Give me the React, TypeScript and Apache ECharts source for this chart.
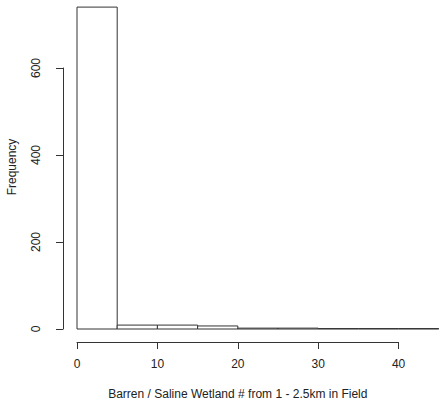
import React, { useEffect, useRef } from "react";
import * as echarts from "echarts";

const binStarts = [0, 5, 10, 15, 20, 25, 30, 35, 40];
const binWidth = 5;
const counts = [740, 9, 9, 7, 2, 2, 1, 1, 1];
const xTicks = [0, 10, 20, 30, 40];
const yTicks = [0, 200, 400, 600];
const xTitle = "Barren / Saline Wetland # from 1 - 2.5km in Field";
const yTitle = "Frequency";

const FONT = "Liberation Sans, Arial, Helvetica, sans-serif";
const PX_X = 8.04;
const PX_Y = 0.435;

export default function App() {
  const ref = useRef<HTMLDivElement>(null);
  useEffect(() => {
    if (!ref.current) return;
    const chart = echarts.init(ref.current, null, { renderer: "svg" });
    const data = binStarts.map((s, i) => [s, s + binWidth, counts[i]]);
    const yMax = 756;
    chart.setOption({
      animation: false,
      backgroundColor: "#ffffff",
      textStyle: { fontFamily: FONT },
      grid: [
        { left: 77 - PX_X, width: 48 * PX_X, top: 329 - yMax * PX_Y, height: yMax * PX_Y, outerBoundsMode: "none", containLabel: false },
        { left: 77, width: 40 * PX_X, bottom: 62, height: 10, outerBoundsMode: "none", containLabel: false },
        { left: 63, top: 68, height: 261, width: 10, outerBoundsMode: "none", containLabel: false },
      ],
      xAxis: [
        { gridIndex: 0, type: "value", min: -1, max: 47, show: false },
        {
          gridIndex: 1,
          type: "value",
          min: 0,
          max: 40,
          interval: 10,
          axisLine: { show: true, lineStyle: { color: "#333", width: 1 } },
          axisTick: { show: true, inside: false, length: 7, lineStyle: { color: "#333" } },
          axisLabel: { show: true, color: "#222", fontSize: 12, margin: 16, fontFamily: FONT },
          splitLine: { show: false },
          name: xTitle,
          nameLocation: "middle",
          nameGap: 46,
          nameTextStyle: { color: "#222", fontSize: 12, fontFamily: FONT },
        },
        { gridIndex: 2, type: "value", show: false },
      ],
      yAxis: [
        { gridIndex: 0, type: "value", min: 0, max: yMax, show: false },
        { gridIndex: 1, type: "value", show: false },
        {
          gridIndex: 2,
          type: "value",
          min: 0,
          max: 600,
          interval: 200,
          axisLine: { show: true, lineStyle: { color: "#333", width: 1 } },
          axisTick: { show: true, inside: false, length: 7, lineStyle: { color: "#333" } },
          axisLabel: { show: true, color: "#222", fontSize: 12, margin: 21, rotate: 90, fontFamily: FONT },
          splitLine: { show: false },
        },
      ],
      graphic: [
        {
          type: "text",
          x: 12,
          y: 167,
          rotation: Math.PI / 2,
          style: {
            text: yTitle,
            fill: "#222",
            font: `12px ${FONT}`,
            textAlign: "center",
            textVerticalAlign: "middle",
          },
        },
      ],
      series: [
        {
          type: "custom",
          xAxisIndex: 0,
          yAxisIndex: 0,
          clip: false,
          encode: { x: [0, 1], y: 2 },
          data,
          renderItem: (params: any, api: any) => {
            const p0 = api.coord([api.value(0), 0]);
            const p1 = api.coord([api.value(1), api.value(2)]);
            return {
              type: "rect",
              shape: { x: p0[0], y: p1[1], width: p1[0] - p0[0], height: p0[1] - p1[1] },
              style: { fill: "#ffffff", stroke: "#333", lineWidth: 1 },
            };
          },
        },
      ],
    });
    return () => chart.dispose();
  }, []);
  return (
    <div
      ref={ref}
      style={{ position: "fixed", left: 0, top: 0, width: 439, height: 404 }}
    />
  );
}
